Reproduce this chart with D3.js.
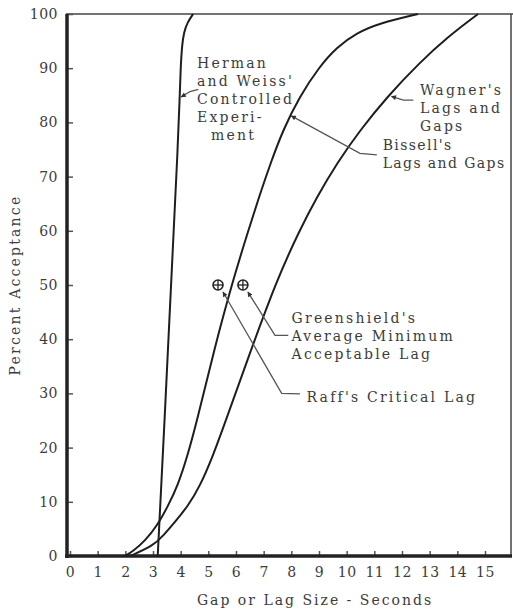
<!DOCTYPE html>
<html lang="en">
<head>
<meta charset="utf-8">
<script src="https://cdn.jsdelivr.net/npm/d3@7"></script>
<style>
  body { margin: 0; background: #fff; }
  svg text { font-family: "DejaVu Serif", "Liberation Serif", serif; fill: #3c3c3c; }
</style>
</head>
<body>
<script>
  // gap (seconds) vs percent acceptance
  var hermanWeiss = [[3.17,0],[3.42,25.1],[3.66,50.9],[3.91,76.8],[3.96,84.1],[4.0,90.2],[4.05,94.3],[4.12,96.7],[4.25,98.5],[4.45,100]];
  var bissell = [[1.99,0],[2.28,0.9],[2.71,2.8],[3.14,5.5],[3.54,9.2],[3.89,12.9],[4.25,18.5],[4.6,25.1],[5.2,37.9],[5.89,50.9],[6.45,60.1],[6.83,66.2],[7.25,72.5],[7.7,78.6],[8.29,84.7],[9.0,90.2],[9.65,93.9],[10.36,96.5],[11.19,98.3],[12.58,100]];
  var wagner = [[2.17,0],[3.0,1.85],[3.36,3.7],[3.83,6.5],[4.26,9.2],[4.7,12.9],[5.17,18.5],[5.64,25.1],[6.47,37],[7.47,50.9],[8.3,60.1],[8.92,66.2],[9.65,72.5],[10.49,78.6],[11.46,84.7],[12.63,91.0],[13.66,95.8],[14.75,100]];

  var markerNames = ["Raff", "Greenshield"];
  var markerGaps = [5.35, 6.25];
  var markerPct = [50, 50];

  var xTickValues = [0,1,2,3,4,5,6,7,8,9,10,11,12,13,14,15];
  var yTickValues = [0,10,20,30,40,50,60,70,80,90,100];

  var hermanText = ["Herman", "and Weiss'", "Controlled", "Experi-", "ment"];
  var wagnerText = ["Wagner's", "Lags and", "Gaps"];
  var bissellText = ["Bissell's", "Lags and Gaps"];
  var greenText = ["Greenshield's", "Average Minimum", "Acceptable Lag"];
  var raffText = ["Raff's Critical Lag"];

  const w = 513;
  const h = 610;

  const x = d3.scaleLinear().domain([0, 15]).range([70, 485]);
  const y = d3.scaleLinear().domain([0, 100]).range([556, 14]);

  const svg = d3.select("body").append("svg")
    .attr("width", w)
    .attr("height", h);

  var defs = svg.append("defs");
  defs.append("marker")
    .attr("id", "head")
    .attr("viewBox", "0 0 10 10")
    .attr("refX", 9).attr("refY", 5)
    .attr("markerWidth", 7).attr("markerHeight", 5)
    .attr("markerUnits", "userSpaceOnUse")
    .attr("orient", "auto")
    .append("path")
    .attr("d", "M0,0 L10,5 L0,10 z")
    .style("fill", "#333");

  // frame: thin top / right, heavy axes
  svg.append("line")
    .attr("x1", x(0) - 4).attr("x2", w)
    .attr("y1", y(100)).attr("y2", y(100))
    .style("stroke", "#444").style("stroke-width", 1.5);
  svg.append("line")
    .attr("x1", w - 2).attr("x2", w - 2)
    .attr("y1", y(100)).attr("y2", y(0))
    .style("stroke", "#444").style("stroke-width", 1.5);

  const xAxis = d3.axisBottom(x).tickValues(xTickValues).tickSize(-5).tickSizeOuter(0).tickPadding(11);
  var gx = svg.append("g")
    .attr("transform", "translate(0," + y(0) + ")")
    .call(xAxis);

  const yAxis = d3.axisLeft(y).tickValues(yTickValues).tickSize(-6).tickSizeOuter(0).tickPadding(9);
  var gy = svg.append("g")
    .attr("transform", "translate(" + (x(0) - 3) + ",0)")
    .call(yAxis);

  [gx, gy].forEach(function(g) {
    g.select(".domain").remove();
    g.selectAll(".tick line").style("stroke", "#555").style("stroke-width", 1.5);
    g.selectAll(".tick text")
      .style("font-size", "14px")
      .style("font-family", "DejaVu Serif")
      .style("letter-spacing", "0.5px")
      .style("fill", "#3c3c3c");
  });

  svg.append("line")
    .attr("x1", x(0) - 3).attr("x2", x(0) - 3)
    .attr("y1", y(100)).attr("y2", y(0) + 2)
    .style("stroke", "#222").style("stroke-width", 3.5);
  svg.append("line")
    .attr("x1", x(0) - 5).attr("x2", w - 1)
    .attr("y1", y(0)).attr("y2", y(0))
    .style("stroke", "#222").style("stroke-width", 3.5);

  // curves
  var line = d3.line()
    .x(d => x(d[0]))
    .y(d => y(d[1]))
    .curve(d3.curveBasis);

  [hermanWeiss, bissell, wagner].forEach(function(s) {
    svg.append("path")
      .datum(s)
      .attr("d", line)
      .style("fill", "none")
      .style("stroke", "#1e1e1e")
      .style("stroke-width", 2);
  });

  // plus-in-circle markers
  markerNames.forEach(function(n, i) {
    var cx = x(markerGaps[i]), cy = y(markerPct[i]);
    var g = svg.append("g").attr("class", "mk");
    g.append("circle").attr("cx", cx).attr("cy", cy).attr("r", 5)
      .style("fill", "none").style("stroke", "#222").style("stroke-width", 1.6);
    g.append("line").attr("x1", cx - 5).attr("x2", cx + 5).attr("y1", cy).attr("y2", cy)
      .style("stroke", "#222").style("stroke-width", 1.3);
    g.append("line").attr("x1", cx).attr("x2", cx).attr("y1", cy - 5).attr("y2", cy + 5)
      .style("stroke", "#222").style("stroke-width", 1.3);
  });

  // leader lines (data units), last point is the arrow tip
  var leader = d3.line().x(d => x(d[0])).y(d => y(d[1]));
  var leaders = [
    [[4.64,86.1],[4.34,85.7],[4.02,84.7]],
    [[12.41,84.1],[12.05,84.1],[11.62,84.8]],
    [[11.09,74.0],[10.48,74.3],[8.0,81.2]],
    [[7.89,40.7],[7.41,40.7],[6.43,48.7]],
    [[8.31,29.9],[7.65,30.0],[5.53,48.7]]
  ];
  leaders.forEach(function(pts) {
    svg.append("path")
      .attr("d", leader(pts))
      .attr("marker-end", "url(#head)")
      .style("fill", "none")
      .style("stroke", "#555")
      .style("stroke-width", 1.3);
  });

  // annotation blocks
  function block(lines, gx0, pct0, spacing, indent) {
    var t = svg.append("text")
      .attr("x", x(gx0))
      .attr("y", y(pct0))
      .style("font-size", "14px")
      .style("letter-spacing", spacing + "px");
    lines.forEach(function(s, i) {
      t.append("tspan")
        .attr("x", x(gx0) + (indent && indent[i] ? indent[i] : 0))
        .attr("dy", i === 0 ? "0.35em" : "18")
        .text(s);
    });
  }
  block(hermanText, 4.59, 91.0, 2.2, [0, 0, 0, 0, 14]);
  block(wagnerText, 12.65, 86.0, 2.2);
  block(bissellText, 11.3, 75.8, 1.4);
  block(greenText, 8.01, 43.9, 2.2);
  block(raffText, 8.55, 29.4, 2.2);

  // axis titles
  svg.append("text")
    .attr("transform", "translate(15," + y(50) + ") rotate(-90)")
    .attr("text-anchor", "middle")
    .attr("dy", "0.35em")
    .style("font-size", "14px")
    .style("letter-spacing", "2.2px")
    .text("Percent Acceptance");

  svg.append("text")
    .attr("x", 315)
    .attr("y", 600)
    .attr("text-anchor", "middle")
    .attr("dy", "0.35em")
    .style("font-size", "14px")
    .style("letter-spacing", "2px")
    .text("Gap or Lag Size - Seconds");
</script>
</body>
</html>
